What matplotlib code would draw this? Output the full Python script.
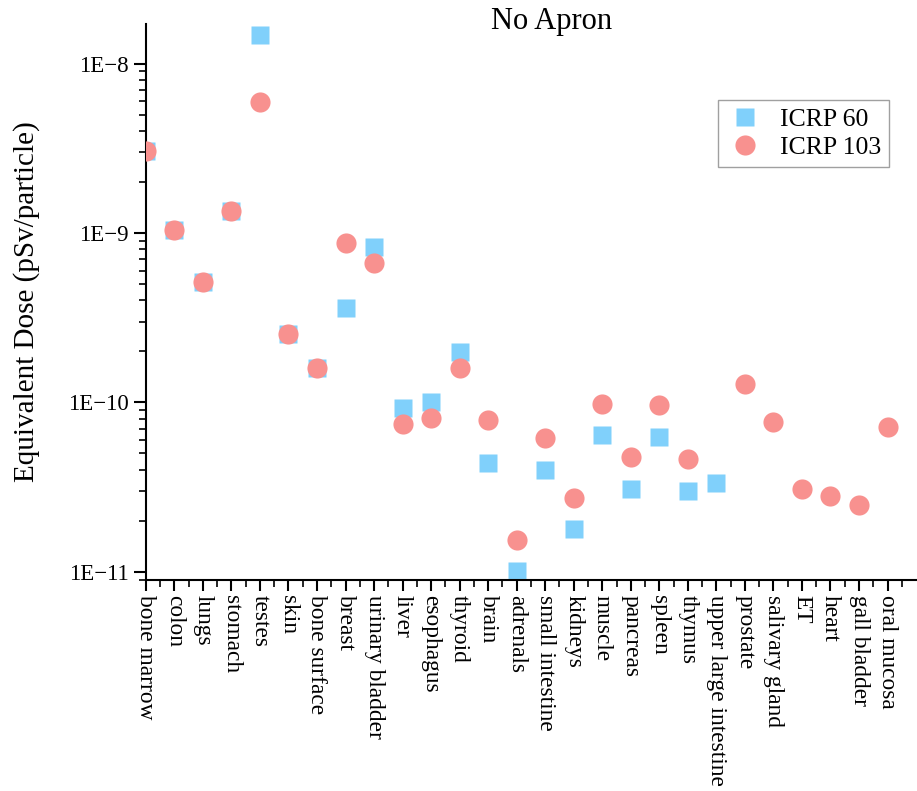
import numpy as np
import matplotlib
matplotlib.use("Agg")
import matplotlib.pyplot as plt
from matplotlib.ticker import FixedLocator, LogLocator, NullFormatter, FuncFormatter

plt.rcParams['font.family'] = ['Liberation Serif', 'DejaVu Serif']

organs = ["bone marrow", "colon", "lungs", "stomach", "testes", "skin",
          "bone surface", "breast", "urinary bladder", "liver", "esophagus",
          "thyroid", "brain", "adrenals", "small intestine", "kidneys", "muscle",
          "pancreas", "spleen", "thymus", "upper large intestine", "prostate",
          "salivary gland", "ET", "heart", "gall bladder", "oral mucosa"]

icrp60 = [3.07e-9, 1.04e-9, 5.13e-10, 1.34e-9, 1.48e-8, 2.54e-10,
          1.59e-10, 3.62e-10, 8.30e-10, 9.23e-11, 1.0e-10,
          1.98e-10, 4.40e-11, 1.01e-11, 4.01e-11, 1.78e-11, 6.38e-11,
          3.10e-11, 6.27e-11, 3.00e-11, 3.34e-11, np.nan,
          np.nan, np.nan, np.nan, np.nan, np.nan]

icrp103 = [3.07e-9, 1.04e-9, 5.13e-10, 1.34e-9, 5.91e-9, 2.54e-10,
           1.59e-10, 8.71e-10, 6.64e-10, 7.41e-11, 8.07e-11,
           1.59e-10, 7.89e-11, 1.55e-11, 6.14e-11, 2.73e-11, 9.77e-11,
           4.76e-11, 9.64e-11, 4.61e-11, np.nan, 1.29e-10,
           7.67e-11, 3.07e-11, 2.81e-11, 2.49e-11, 7.19e-11]

x = np.arange(len(organs))

fig = plt.figure(figsize=(9.17, 7.91), dpi=100)
ax = fig.add_axes([0.159, 0.267, 0.840, 0.703])

ax.plot(x, icrp60, linestyle='none', marker='s', ms=13, color='#80D0FB',
        mec='none', label='ICRP 60', zorder=2)
ax.plot(x, icrp103, linestyle='none', marker='o', ms=14.5, color='#F8918F',
        mec='none', label='ICRP 103', zorder=3)

ax.set_yscale('log')
ax.set_ylim(8.97e-12, 1.72e-8)
ax.set_xlim(0, 27)

ax.yaxis.set_major_locator(FixedLocator([1e-11, 1e-10, 1e-9, 1e-8]))
ax.yaxis.set_major_formatter(FuncFormatter(lambda v, p: "1E\u2212%d" % round(-np.log10(v))))
ax.yaxis.set_minor_locator(LogLocator(base=10, subs=np.arange(2, 10)))
ax.yaxis.set_minor_formatter(NullFormatter())

ax.set_xticks(x)
ax.set_xticklabels(organs, rotation=-90, fontsize=16.8, va='top', ha='center')
ax.set_xticks(x + 0.5, minor=True)

ax.tick_params(axis='y', which='major', direction='out', length=9, width=1.5, labelsize=16.5)
ax.tick_params(axis='y', which='minor', direction='out', length=5, width=1.2)
ax.tick_params(axis='x', which='major', direction='out', length=8, width=1.5, pad=3)
ax.tick_params(axis='x', which='minor', direction='out', length=5, width=1.2)

for s in ['top', 'right']:
    ax.spines[s].set_visible(False)
for s in ['left', 'bottom']:
    ax.spines[s].set_linewidth(1.5)

ax.set_ylabel("Equivalent Dose (pSv/particle)", fontsize=21, labelpad=20)

fig.text(0.602, 0.973, "No Apron", fontsize=22, ha='center', va='center')

leg = ax.legend(loc='upper right', bbox_to_anchor=(0.9695, 0.8736), bbox_transform=fig.transFigure,
                fontsize=18.5, frameon=True, fancybox=False, edgecolor='#888888',
                handletextpad=0.6, borderpad=0.3, labelspacing=0.2, markerscale=1.0,
                handlelength=1.5, borderaxespad=0)
leg.get_frame().set_linewidth(1.0)

fig.savefig("out.png", dpi=100)
